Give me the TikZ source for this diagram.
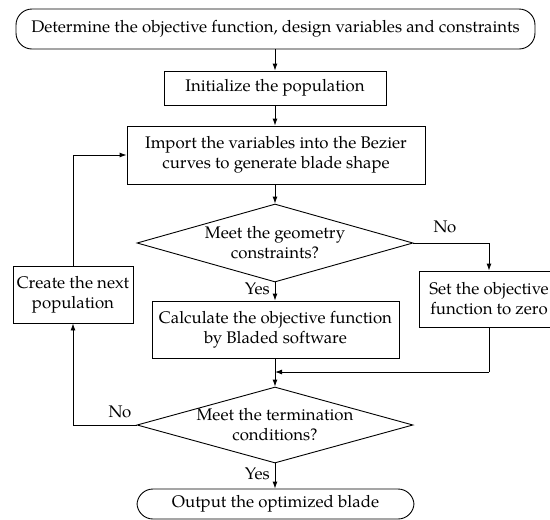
\documentclass[tikz,border=0pt]{standalone}
\usepackage{fontspec}
\setmainfont{TeX Gyre Pagella}
\usetikzlibrary{shapes.geometric,arrows.meta}
\begin{document}
\begin{tikzpicture}[x=1pt,y=-1pt,
  font=\fontsize{16.8}{20}\selectfont,
  box/.style={draw, line width=0.9pt, inner sep=0pt, align=center},
  term/.style={box, rounded corners=16pt},
  dia/.style={draw, line width=0.9pt, diamond, inner sep=0pt, minimum width=276pt, minimum height=78pt},
  arr/.style={-{Latex[length=7pt,width=5pt]}, line width=0.9pt},
  ln/.style={line width=0.9pt},
  lbl/.style={inner sep=0pt}]
\useasboundingbox (0,0) rectangle (550,520);
\clip (0,0) rectangle (550,520);

\node[term, minimum width=519pt, minimum height=40pt] (top) at (275.5,29)
  {Determine the objective function, design variables and constraints};
\node[box, minimum width=222pt, minimum height=34pt] (init) at (275,88)
  {Initialize the population};
\node[box, minimum width=298pt, minimum height=58pt] (main) at (276,155)
  {Import the variables into the Bezier\\curves to generate blade shape};
\node[dia, label={[align=center]center:Meet the geometry\\constraints?}] (d1) at (275,243) {};
\node[box, minimum width=247pt, minimum height=57pt] (calc) at (275.5,329.5)
  {Calculate the objective function\\by Bladed software};
\node[box, minimum width=120pt, minimum height=57pt] (create) at (73,294.5)
  {Create the next\\population};
\node[box, minimum width=140pt, minimum height=56pt] (set) at (489,299)
  {Set the objective\\function to zero};
\node[dia, minimum height=76pt, label={[align=center]center:Meet the termination\\conditions?}] (d2) at (275,425) {};
\node[term, minimum width=277pt, minimum height=30pt] (out) at (275.5,504)
  {Output the optimized blade};

\coordinate (j) at (275,372);
\coordinate (nr) at (489,243);
\coordinate (sb) at (489,372);
\coordinate (nl) at (73,425);
\coordinate (fb) at (73,155);

\draw[arr] (top.south -| d1.north) -- (init.north -| d1.north);
\draw[arr] (init.south -| d1.north) -- (main.north -| d1.north);
\draw[arr] (main.south -| d1.north) -- (d1.north);
\draw[arr] (d1.south) -- (calc.north -| d1.south);
\draw[ln] (calc.south -| d1.south) -- (j);
\draw[arr] (j) -- (d2.north);
\draw[ln] (d1.east) -- (nr);
\draw[arr] (nr) -- (set.north);
\draw[ln] (set.south) -- (sb);
\draw[arr] (sb) -- (j);
\draw[ln] (d2.west) -- (nl);
\draw[arr] (nl) -- (create.south);
\draw[ln] (create.north) -- (fb);
\draw[arr] (fb) -- (main.west);
\draw[arr] (d2.south) -- (out.north -| d2.south);

\node[lbl] (no1) at (445,227) {No};
\node[lbl, anchor=east] (yes1) at (270,289) {Yes};
\node[lbl] (no2) at (120,412) {No};
\node[lbl, anchor=east] (yes2) at (270,474) {Yes};
\end{tikzpicture}
\end{document}
